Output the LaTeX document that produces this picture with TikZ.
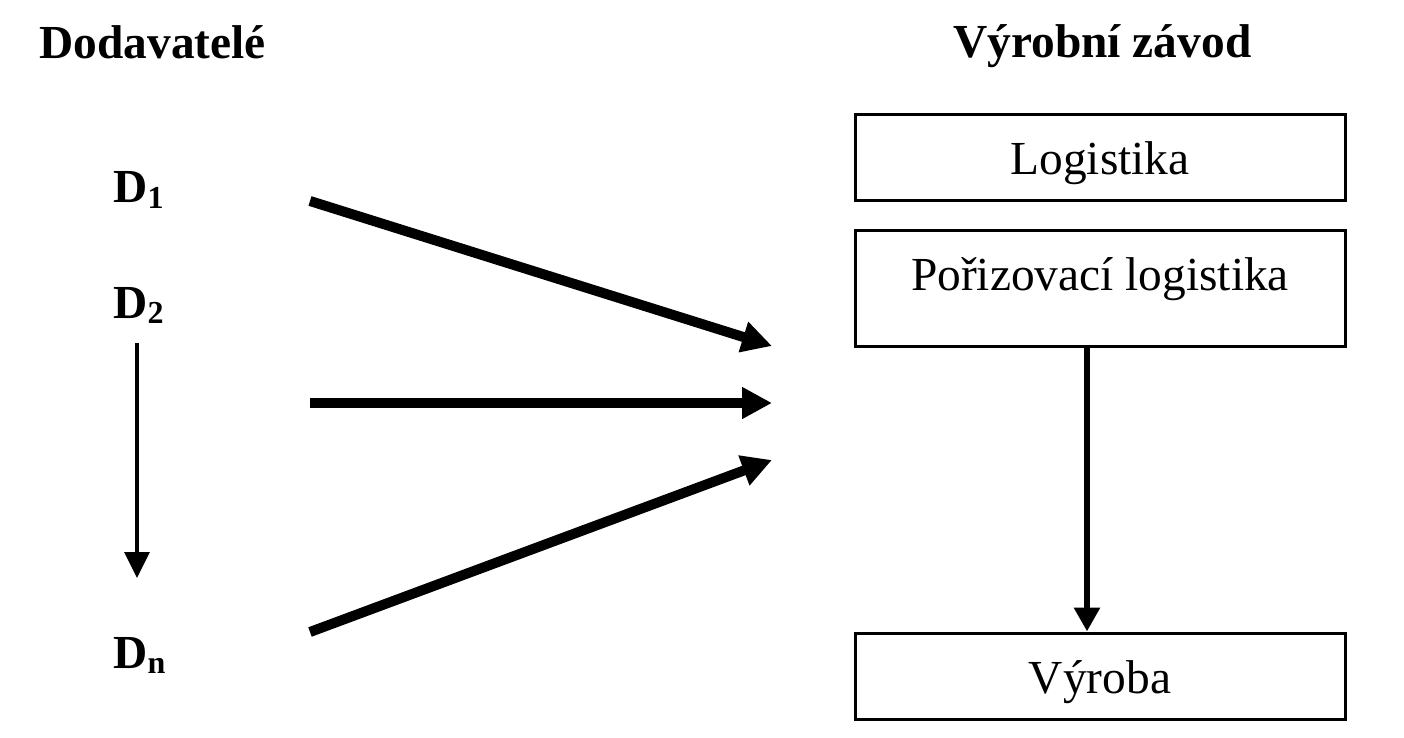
\documentclass[tikz,border=0pt]{standalone}
\usepackage{fontspec}
\setmainfont{Liberation Serif}
\usetikzlibrary{arrows.meta}
\begin{document}
\begin{tikzpicture}[x=0.5pt,y=-0.5pt,
  box/.style={draw,line width=1.5pt,minimum width=245pt,inner sep=0pt,font=\fontsize{23.7}{28}\selectfont},
  head/.style={font=\fontsize{23.7}{28}\selectfont\bfseries,anchor=base west,inner sep=0pt},
  dlab/.style={font=\fontsize{23.7}{28}\selectfont\bfseries,anchor=base west,inner sep=0pt},
  thick arrow/.style={line width=5pt,-{Triangle[length=15pt,width=15pt]}},
  thin arrow/.style={line width=1.6pt,-{Triangle[length=13pt,width=12.5pt]}},
  vert arrow/.style={line width=3pt,-{Triangle[length=12pt,width=12.5pt]}}]
\useasboundingbox (0,0) rectangle (1404,738);
\fill[white] (0,0) rectangle (1404,738);
\newcommand{\dsub}[1]{\raisebox{-2.5pt}{\fontsize{16}{16}\selectfont #1}}
% headings
\node[head] (hd) at (39,59) {Dodavatelé};
\node[head] (hv) at (953,58) {Výrobní závod};
% suppliers
\node[dlab] (d1) at (113,203) {D\dsub{1}};
\node[dlab] (d2) at (113,318) {D\dsub{2}};
\node[dlab] (dn) at (113,668) {D\dsub{n}};
% boxes
\node[box,minimum height=43pt,text height=17pt,text depth=0pt] (log) at (1100,158) {Logistika};
\node[box,minimum height=58pt,text height=10pt,text depth=8pt] (por) at (1100,288) {Pořizovací logistika};
\node[box,minimum height=43pt,text height=17pt,text depth=0pt] (vyr) at (1100,676) {Výroba};
% coordinates for the free ends
\coordinate (a1s) at (310,201);
\coordinate (a1e) at (772,346);
\coordinate (a2s) at (310,403);
\coordinate (a2e) at (772,403);
\coordinate (a3s) at (310,632);
\coordinate (a3e) at (772,460);
\coordinate (ts) at (137,343);
\coordinate (te) at (137,578);
\coordinate (vx) at (1087,0);
% connectors
\draw[thick arrow] (a1s) -- (a1e);
\draw[thick arrow] (a2s) -- (a2e);
\draw[thick arrow] (a3s) -- (a3e);
\draw[thin arrow] (ts) -- (te);
\draw[vert arrow] (por.south -| vx) -- (vyr.north -| vx);
\end{tikzpicture}
\end{document}
